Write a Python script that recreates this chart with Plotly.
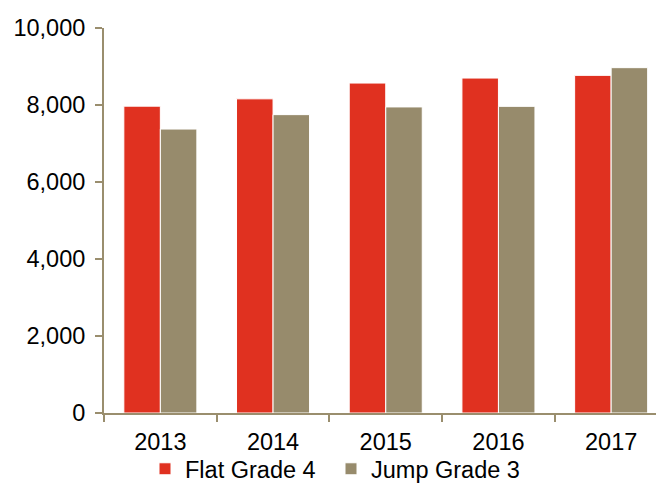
import plotly.graph_objects as go

years = ["2013", "2014", "2015", "2016", "2017"]
flat_grade_4 = [7970, 8160, 8570, 8700, 8770]
jump_grade_3 = [7375, 7750, 7950, 7965, 8970]
y_ticks = [0, 2000, 4000, 6000, 8000, 10000]
y_tick_labels = ["0", "2,000", "4,000", "6,000", "8,000", "10,000"]

RED = "#E03120"
OLIVE = "#978B6C"
AXIS = "#9A8E6E"
FONT = "Liberation Sans, Arial, sans-serif"

fig = go.Figure()
fig.add_trace(go.Bar(x=years, y=flat_grade_4, name="Flat Grade 4", legendwidth=141,
                     marker=dict(color=RED, line=dict(color="white", width=1))))
fig.add_trace(go.Bar(x=years, y=jump_grade_3, name="Jump Grade 3", legendwidth=170,
                     marker=dict(color=OLIVE, line=dict(color="white", width=1))))

fig.update_layout(
    width=656, height=484,
    margin=dict(l=104, r=0, t=28, b=71, autoexpand=False),
    paper_bgcolor="white", plot_bgcolor="white",
    barmode="group", bargap=0.352, bargroupgap=0,
    font=dict(family=FONT, size=23.5, color="black"),
    showlegend=True,
    legend=dict(orientation="h", xref="container", yref="container",
                x=145/656, xanchor="left", y=1 - 469/484, yanchor="middle",
                entrywidthmode="pixels",
                font=dict(family=FONT, size=23.5, color="black"),
                bgcolor="rgba(0,0,0,0)", traceorder="normal"),
    xaxis=dict(range=[-0.5, 4.398], showline=True, linecolor=AXIS, linewidth=2,
               ticks="outside", tickson="boundaries", ticklen=7, tickwidth=2,
               tickcolor=AXIS, showgrid=False, zeroline=False, automargin=False,
               ticklabelstandoff=7,
               tickfont=dict(family=FONT, size=23.5, color="black")),
    yaxis=dict(range=[0, 10000], tickvals=y_ticks, ticktext=y_tick_labels,
               showline=True, linecolor=AXIS, linewidth=2,
               ticks="outside", ticklen=7, tickwidth=2, tickcolor=AXIS,
               showgrid=False, zeroline=False, automargin=False,
               ticklabelstandoff=5,
               tickfont=dict(family=FONT, size=23.5, color="black")),
)

fig.write_html("out.html", config={"displayModeBar": False},
               post_script="document.body.style.margin='0';document.body.style.overflow='hidden';")
